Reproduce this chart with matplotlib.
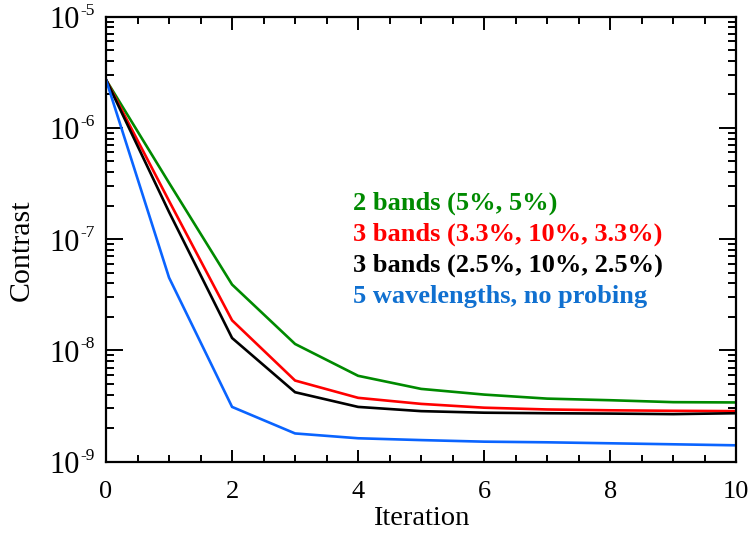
import numpy as np
import matplotlib
matplotlib.use("Agg")
import matplotlib.pyplot as plt
from matplotlib.ticker import LogLocator, MultipleLocator, FixedLocator, NullFormatter

plt.rcParams['font.family'] = ['Liberation Serif', 'DejaVu Serif']

# Contrast vs iteration
iteration = [0, 1, 2, 3, 4, 5, 6, 7, 8, 9, 10]
two_bands = [2.7e-6, 3.2e-7, 3.9e-8, 1.14e-8, 5.9e-9, 4.5e-9, 4.0e-9, 3.68e-9, 3.56e-9, 3.42e-9, 3.40e-9]
three_bands_33 = [2.7e-6, 2.2e-7, 1.86e-8, 5.35e-9, 3.74e-9, 3.3e-9, 3.05e-9, 2.94e-9, 2.89e-9, 2.86e-9, 2.84e-9]
three_bands_25 = [2.7e-6, 1.75e-7, 1.29e-8, 4.2e-9, 3.1e-9, 2.84e-9, 2.75e-9, 2.72e-9, 2.70e-9, 2.67e-9, 2.72e-9]
five_wl = [2.7e-6, 4.5e-8, 3.1e-9, 1.79e-9, 1.62e-9, 1.56e-9, 1.51e-9, 1.49e-9, 1.46e-9, 1.43e-9, 1.40e-9]

labels = ["2 bands (5%, 5%)", "3 bands (3.3%, 10%, 3.3%)",
          "3 bands (2.5%, 10%, 2.5%)", "5 wavelengths, no probing"]
line_colors = ['#008a00', '#ff0000', '#000000', '#0a64ff']
text_colors = ['#008a00', '#ff0000', '#000000', '#1070d0']
yticks = [1e-9, 1e-8, 1e-7, 1e-6, 1e-5]

PX = 0.72  # points per pixel at dpi 100

fig = plt.figure(figsize=(7.52, 5.33), dpi=100)
ax = fig.add_axes([0.141, 0.134, 0.838, 0.835])

series = [two_bands, three_bands_33, three_bands_25, five_wl]
for s, c in zip(series, line_colors):
    ax.plot(iteration, s, color=c, lw=1.9, solid_joinstyle='miter')

ax.set_yscale('log')
ax.set_xlim(0, 10)
ax.set_ylim(1e-9, 1e-5)

ax.xaxis.set_major_locator(MultipleLocator(2))
ax.xaxis.set_minor_locator(MultipleLocator(0.5))
ax.yaxis.set_major_locator(FixedLocator(yticks))
ax.yaxis.set_minor_locator(LogLocator(base=10, subs=np.arange(2, 10)))
ax.yaxis.set_minor_formatter(NullFormatter())
ax.set_yticklabels([])

# IDL style labels: big "10" with a small, low exponent
ytr = ax.get_yaxis_transform()
for t in yticks:
    ax.annotate('10', xy=(0, t), xycoords=ytr, xytext=(-26 * PX, -11.5 * PX),
                textcoords='offset points', ha='right', va='baseline', fontsize=22)
    ax.annotate('-%d' % -int(np.log10(t)), xy=(0, t), xycoords=ytr,
                xytext=(-25.5 * PX, 2 * PX), textcoords='offset points',
                ha='left', va='baseline', fontsize=12.5)

ax.tick_params(which='both', direction='in', top=True, right=True, width=1.4)
ax.tick_params(axis='x', labelsize=19)
ax.tick_params(axis='y', which='major', length=12)
ax.tick_params(axis='y', which='minor', length=6)
ax.tick_params(axis='x', which='major', length=9, pad=14)
ax.tick_params(axis='x', which='minor', length=5)
for sp in ax.spines.values():
    sp.set_linewidth(1.6)

ax.set_xlabel('Iteration', fontsize=20.5)
ax.xaxis.set_label_coords(0.5, -0.1)
ax.set_ylabel('Contrast', fontsize=21.5)
ax.yaxis.set_label_coords(-0.113, 0.475)

for i, (lab, c) in enumerate(zip(labels, text_colors)):
    ax.text(0.392, 0.567 - i * 0.0703, lab, color=c, fontsize=19, fontweight='bold',
            transform=ax.transAxes, va='baseline', ha='left')

fig.savefig('out.png', dpi=100)
